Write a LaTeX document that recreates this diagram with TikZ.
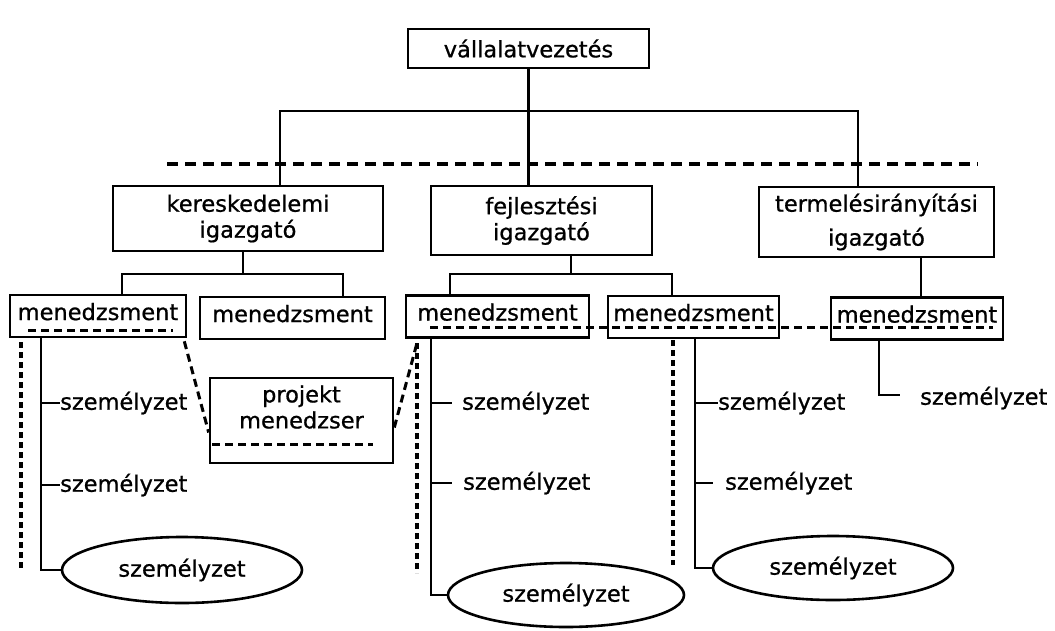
\documentclass[tikz,border=0pt]{standalone}
\usepackage{fontspec}
\setmainfont{DejaVu Sans}[FakeBold=0.8]
\usetikzlibrary{shapes.geometric,calc}
\begin{document}
\begin{tikzpicture}[x=1pt,y=-1pt,
  every node/.style={font=\fontsize{22.5}{26}\selectfont},
  box/.style={draw, line width=2.6pt, inner sep=0pt, align=center},
  mbox/.style={box, minimum height=42pt, text depth=9pt},
  oval/.style={draw, ellipse, line width=2.6pt, inner sep=0pt},
  conn/.style={line width=2.6pt},
  dline/.style={line width=3.2pt, dash pattern=on 11pt off 7pt},
  ddash/.style={line width=3pt, dash pattern=on 8pt off 5pt},
  dotl/.style={line width=3.5pt, dash pattern=on 6pt off 4pt},
  lbl/.style={anchor=mid west, inner sep=0pt}]
\useasboundingbox[fill=white] (0,0) rectangle (1055,630);

% boxes
\node[box, minimum width=241pt, minimum height=39pt] (top) at (528.5,48.5) {vállalatvezetés};
\node[box, minimum width=270pt, minimum height=65pt] (ker) at (248,218.5) {kereskedelemi\\igazgató};
\node[box, minimum width=221pt, minimum height=69pt] (fej) at (541.5,220.5) {fejlesztési\\igazgató};
\node[box, minimum width=235pt, minimum height=70pt] (ter) at (876.5,222) {termelésirányítási\\[8pt]igazgató};

\node[mbox, minimum width=176pt] (m1) at (98,316) {menedzsment};
\node[mbox, minimum width=185pt] (m2) at (292.5,318) {menedzsment};
\node[mbox, minimum width=183pt] (m3) at (497.5,316.5) {menedzsment};
\node[mbox, minimum width=171pt] (m4) at (693.5,317) {menedzsment};
\node[mbox, minimum width=172pt] (m5) at (917,318.5) {menedzsment};

\node[box, minimum width=183pt, minimum height=85pt] (proj) at (301.5,420.5) {};
\node[align=center, inner sep=0pt] (projtxt) at (301.5,407) {projekt\\menedzser};

\node[oval, minimum width=240pt, minimum height=66pt] (e1) at (182,570) {személyzet};
\node[oval, minimum width=236pt, minimum height=64pt] (e2) at (566,595) {személyzet};
\node[oval, minimum width=240pt, minimum height=64pt] (e3) at (833,568) {személyzet};

% labels
\node[lbl] (s11) at (60,407) {személyzet};
\node[lbl] (s12) at (60,489) {személyzet};
\node[lbl] (s31) at (462,407) {személyzet};
\node[lbl] (s32) at (463,487) {személyzet};
\node[lbl] (s41) at (718,407) {személyzet};
\node[lbl] (s42) at (725,487) {személyzet};
\node[lbl] (s51) at (920,402) {személyzet};

% top level connectors
\coordinate (bL) at (280,111);
\coordinate (bR) at (858,111);
\draw[conn] (top.south) -- (top.south |- fej.north);
\draw[conn] (ker.north -| bL) -- (bL) -- (bR) -- (ter.north -| bR);
\coordinate (dA) at (167,164);
\coordinate (dB) at (978,164);
\draw[dline] (dA) -- (dB);

% second level connectors
\coordinate (jK) at (243,274);
\coordinate (jK1) at (122,274);
\coordinate (jK2) at (343,274);
\draw[conn] (ker.south -| jK) -- (jK);
\draw[conn] (m1.north -| jK1) -- (jK1) -- (jK2) -- (m2.north -| jK2);

\coordinate (jF) at (571,274);
\coordinate (jF1) at (450,274);
\coordinate (jF2) at (672,274);
\draw[conn] (fej.south -| jF) -- (jF);
\draw[conn] (m3.north -| jF1) -- (jF1) -- (jF2) -- (m4.north -| jF2);

\coordinate (jT) at (921,274);
\draw[conn] (ter.south -| jT) -- (m5.north -| jT);

% menedzsment 1 tree
\coordinate (k1) at (41,0);
\draw[conn] (m1.south -| k1) |- (e1.west);
\draw[conn] (s11.west -| k1) -- (s11.west);
\draw[conn] (s12.west -| k1) -- (s12.west);
\coordinate (q1) at (21,342);
\coordinate (q1e) at (21,570);
\draw[dotl] (q1) -- (q1e);
\coordinate (d1a) at (28,330);
\coordinate (d1b) at (173,330);
\draw[ddash] (d1a) -- (d1b);

% projekt menedzser links
\draw[ddash] ($(m1.south east)+(-3,3)$) -- ($(proj.west)+(0,12)$);
\coordinate (q3) at (417,343);
\coordinate (q3e) at (417,573);
\draw[ddash] ($(proj.east)+(0,7)$) -- (q3);
\draw[dotl] (q3) -- (q3e);
\coordinate (dpa) at (212,444);
\coordinate (dpb) at (373,444);
\draw[ddash] (dpa) -- (dpb);

% menedzsment 3 tree
\coordinate (k3) at (431,0);
\draw[conn] (m3.south -| k3) |- (e2.west);
\draw[conn] (s31.west -| k3) -- ++(21,0);
\draw[conn] (s32.west -| k3) -- ++(21,0);

% long dashed line through m3, m4, m5
\coordinate (lA) at (430,327);
\coordinate (lB) at (993,327);
\draw[ddash] (lA) -- (lB);

% menedzsment 4 tree
\coordinate (q4) at (673,340);
\coordinate (q4e) at (673,565);
\draw[dotl] (q4) -- (q4e);
\coordinate (k4) at (695,0);
\draw[conn] (m4.south -| k4) |- (e3.west);
\draw[conn] (s41.west -| k4) -- (s41.west);
\draw[conn] (s42.west -| k4) -- ++(18,0);

% menedzsment 5 tree
\coordinate (k5) at (879,0);
\draw[conn] (m5.south -| k5) |- ($(s51.west)+(-20,-3)$);
\end{tikzpicture}
\end{document}
